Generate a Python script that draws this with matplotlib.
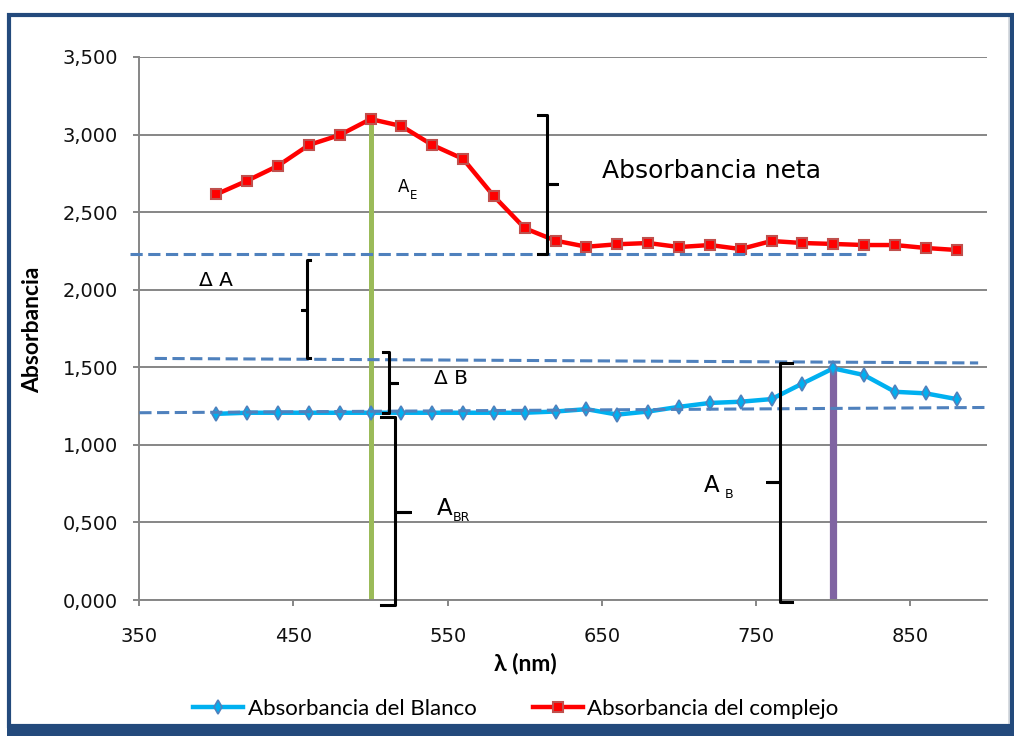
import matplotlib
matplotlib.use("Agg")
import matplotlib.pyplot as plt
from matplotlib.patches import Rectangle
from matplotlib.lines import Line2D
from matplotlib.ticker import FuncFormatter

# --- data -------------------------------------------------------------
wavelength = [400, 420, 440, 460, 480, 500, 520, 540, 560, 580, 600, 620, 640,
              660, 680, 700, 720, 740, 760, 780, 800, 820, 840, 860, 880]

abs_complejo = [2.615, 2.703, 2.799, 2.933, 2.997, 3.100, 3.055, 2.933, 2.843,
                2.602, 2.396, 2.316, 2.277, 2.293, 2.301, 2.275, 2.288, 2.262,
                2.314, 2.301, 2.295, 2.288, 2.288, 2.269, 2.256]

abs_blanco = [1.200, 1.207, 1.207, 1.207, 1.207, 1.207, 1.207, 1.207, 1.207,
              1.207, 1.207, 1.215, 1.230, 1.195, 1.215, 1.245, 1.270, 1.278,
              1.295, 1.395, 1.493, 1.450, 1.342, 1.332, 1.295]

# baselines drawn by hand over the spectra: (x0, x1), (y0, y1)
baseline_complejo = ([344, 821], [2.233, 2.233])
baseline_delta = ([360, 894], [1.557, 1.528])
baseline_blanco = ([350, 900], [1.207, 1.241])

lambda_max_complejo = 500
lambda_max_blanco = 800

x_ticks = [350, 450, 550, 650, 750, 850]
y_ticks = [0.0, 0.5, 1.0, 1.5, 2.0, 2.5, 3.0, 3.5]

# --- colours ----------------------------------------------------------
RED = "#ff0000"
RED_EDGE = "#c0504d"
CYAN = "#00b0f0"
CYAN_EDGE = "#4f81bd"
DASH = "#4f81bd"
GREEN = "#9bbb59"
PURPLE = "#8064a2"
GRID = "#868686"
NAVY = "#234a7c"

fig = plt.figure(figsize=(10.14, 7.36), dpi=100)
W, H = 1014, 736
ax = fig.add_axes([139.3 / W, 1 - 600 / H, (987.4 - 139.3) / W, (600 - 57) / H])

ax.set_xlim(350, 900)
ax.set_ylim(0, 3.5)
ax.set_xticks(x_ticks)
ax.set_yticks(y_ticks)
ax.yaxis.set_major_formatter(FuncFormatter(lambda v, p: f"{v:.3f}".replace(".", ",")))

for s in ["top", "right"]:
    ax.spines[s].set_visible(False)
for s in ["left", "bottom"]:
    ax.spines[s].set_color(GRID)
    ax.spines[s].set_linewidth(1.4)

ax.grid(axis="y", color=GRID, linewidth=1.4, zorder=0.5)
ax.set_axisbelow(True)
ax.tick_params(axis="y", length=4.3, width=1.4, color=GRID, pad=11,
               labelsize=14, labelcolor="#111111")
ax.tick_params(axis="x", length=4.3, width=1.4, color=GRID, pad=15,
               labelsize=14, labelcolor="#111111")
for lab in ax.get_xticklabels() + ax.get_yticklabels():
    lab.set_family("DejaVu Sans")

# vertical markers at the absorption maxima
ax.plot([lambda_max_complejo, lambda_max_complejo], [0, max(abs_complejo)],
        color=GREEN, lw=3.6, zorder=2, solid_capstyle="butt")
ax.plot([lambda_max_blanco, lambda_max_blanco], [0, max(abs_blanco)],
        color=PURPLE, lw=5.2, zorder=2, solid_capstyle="butt")

# spectra
ax.plot(wavelength, abs_blanco, color=CYAN, lw=3.2, marker="d", markersize=7,
        markerfacecolor=CYAN, markeredgecolor=CYAN_EDGE, markeredgewidth=1.2,
        zorder=3, label="Absorbancia del Blanco")
ax.plot(wavelength, abs_complejo, color=RED, lw=3.2, marker="s", markersize=7.5,
        markerfacecolor=RED, markeredgecolor=RED_EDGE, markeredgewidth=1.5,
        zorder=3, label="Absorbancia del complejo")

# dashed baselines
for xs, ys in (baseline_complejo, baseline_delta, baseline_blanco):
    ax.plot(xs, ys, color=DASH, lw=2.2, linestyle=(0, (4, 1.8)), zorder=4,
            clip_on=False)


def brace(x_vert, x_hook, x_tip, y_top, y_mid, y_bot):
    ax.plot([x_hook, x_vert, x_vert, x_tip, x_vert, x_vert, x_hook],
            [y_top, y_top, y_mid, y_mid, y_mid, y_bot, y_bot],
            color="black", lw=2.2, zorder=5, clip_on=False,
            solid_joinstyle="round")


brace(614.4, 608.6, 620.9, 3.126, 2.681, 2.230)   # absorbancia neta
brace(458.5, 460.5, 455.3, 2.192, 1.869, 1.558)   # delta A
brace(511.9, 508.0, 516.9, 1.600, 1.397, 1.205)   # delta B
brace(515.8, 506.7, 525.6, 1.178, 0.569, -0.032)  # A_BR
brace(765.5, 773.1, 756.9, 1.530, 0.7625, -0.011)  # A_B

# annotations
txt = dict(family="DejaVu Sans", color="black", va="baseline", ha="left", zorder=6)
ax.text(650.1, 2.720, "Absorbancia neta", fontsize=18, **txt)
ax.text(518.0, 2.632, "A", fontsize=12, **txt)
ax.text(525.6, 2.585, "E", fontsize=8.5, **txt)
ax.text(388.4, 2.024, "Δ A", fontsize=14.5, **txt)
ax.text(541.1, 1.390, "Δ B", fontsize=14.5, **txt)
ax.text(542.9, 0.548, "A", fontsize=16.5, **txt)
ax.text(553.2, 0.509, "BR", fontsize=9, **txt)
ax.text(715.8, 0.694, "A", fontsize=16.5, **txt)
ax.text(729.4, 0.657, "B", fontsize=9, **txt)

# axis titles
ax.set_ylabel("Absorbancia", fontsize=16.5, fontweight="bold",
              family=["Lato", "DejaVu Sans"])
ax.yaxis.set_label_coords((33 - 139.3) / 848.1, 0.498)
ax.yaxis.label.set_va("center")
ax.set_xlabel("λ (nm)", fontsize=16.5, fontweight="bold",
              family=["Lato", "DejaVu Sans"])
ax.xaxis.set_label_coords((525 - 139.3) / 848.1, -(663 - 600) / 543)
ax.xaxis.label.set_va("center")

# legend
fig.legend(loc="center", bbox_to_anchor=(516 / W, 1 - 709 / H), ncol=2,
           frameon=False, handlelength=2.25, handletextpad=0.22,
           columnspacing=2.5, prop={"family": "Lato", "size": 16})

# chart frame
fig.add_artist(Rectangle((9 / W, 1 - 726 / H), (1011.5 - 9) / W, (726 - 14.5) / H,
                         transform=fig.transFigure, fill=False,
                         edgecolor=NAVY, linewidth=3, zorder=10))
fig.add_artist(Rectangle((7 / W, 0), 1, (736 - 728) / H,
                         transform=fig.transFigure, facecolor=NAVY,
                         edgecolor="none", zorder=10))
fig.add_artist(Line2D([1008.5 / W, 1008.5 / W], [1 - 725 / H, 1 - 17 / H],
                      transform=fig.transFigure, color="#d0d4da", lw=1.2,
                      zorder=9))

fig.savefig("out.png", dpi=100)
